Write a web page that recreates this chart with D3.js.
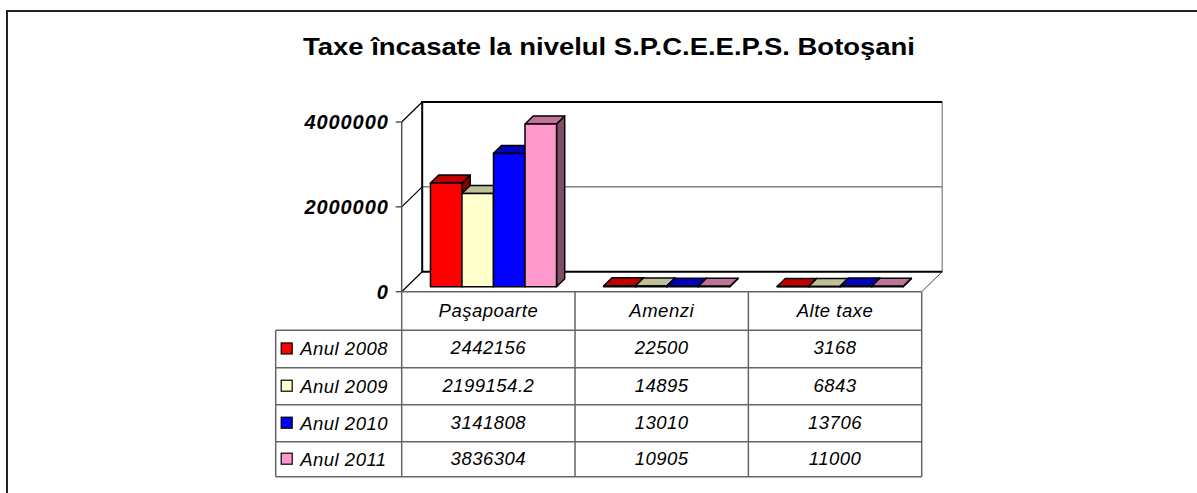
<!DOCTYPE html>
<html>
<head>
<meta charset="utf-8">
<style>
    body { margin: 0; background: white; }
    svg { display: block; font-family: 'Liberation Sans', Arial, sans-serif; }
</style>
</head>
<body>
<svg width="1197" height="493"></svg>
<script src="https://d3js.org/d3.v7.min.js"></script>
<script>
    // data
    const categories = ["Paşapoarte", "Amenzi", "Alte taxe"];
    const series = ["Anul 2008", "Anul 2009", "Anul 2010", "Anul 2011"];
    const values2008 = [2442156, 22500, 3168];
    const values2009 = [2199154.2, 14895, 6843];
    const values2010 = [3141808, 13010, 13706];
    const values2011 = [3836304, 10905, 11000];
    const seriesColors = ["#ff0000", "#ffffcc", "#0000ff", "#ff99cc"];
    const yTicks = [0, 2000000, 4000000];
    const title = "Taxe încasate la nivelul S.P.C.E.E.P.S. Botoşani";

    const allValues = [values2008, values2009, values2010, values2011];

    let svg = d3.select("svg");

    // outer chart frame (cropped by the picture on right and bottom)
    svg.append("path")
        .attr("d", "M7,500 L7,11 L1210,11")
        .attr("fill", "none")
        .attr("stroke", "#222")
        .attr("stroke-width", 2);

    svg.append("text")
        .attr("x", 609)
        .attr("y", 55)
        .attr("text-anchor", "middle")
        .attr("font-size", 24)
        .attr("font-weight", "bold")
        .attr("textLength", 612)
        .attr("lengthAdjust", "spacingAndGlyphs")
        .text(title);

    // 3d plot geometry
    let left = 401.7, right = 921.7, base = 291.7, top4 = 122;
    let DX = 20.5, DY = 20;
    let frontD = 0.25, backD = 0.65;

    let x = d3.scaleBand().domain(categories).range([left, right]);
    let xs = d3.scaleBand().domain(series).range([0, x.bandwidth()]).paddingOuter(0.75);
    let y = d3.scaleLinear().domain([0, 4000000]).range([base, top4]);

    const proj = (X, Y, d) => [X + d * DX, Y - d * DY];
    const poly = pts => "M" + pts.map(p => p.join(",")).join("L") + "Z";
    const shade = (c, k) => {
        let r = d3.rgb(c);
        return d3.rgb(r.r * k, r.g * k, r.b * k).formatHex();
    };

    let walls = svg.append("g");

    // back wall
    walls.append("path")
        .attr("d", poly([proj(left, y(4000000), 1), proj(right, y(4000000), 1), proj(right, y(0), 1), proj(left, y(0), 1)]))
        .attr("fill", "white").attr("stroke", "none");

    // gridlines on back wall
    walls.selectAll(".grid")
        .data(yTicks.filter(t => t > 0 && t < 4000000))
        .join("line")
        .attr("x1", d => proj(left, y(d), 1)[0])
        .attr("x2", d => proj(right, y(d), 1)[0])
        .attr("y1", d => proj(left, y(d), 1)[1])
        .attr("y2", d => proj(left, y(d), 1)[1])
        .attr("stroke", "#444").attr("stroke-width", 1);

    // back wall right edge (thin grey)
    walls.append("line")
        .attr("x1", proj(right, y(4000000), 1)[0]).attr("y1", proj(right, y(4000000), 1)[1])
        .attr("x2", proj(right, y(0), 1)[0]).attr("y2", proj(right, y(0), 1)[1])
        .attr("stroke", "#666").attr("stroke-width", 1);

    // floor right diagonal
    walls.append("line")
        .attr("x1", right).attr("y1", y(0))
        .attr("x2", proj(right, y(0), 1)[0]).attr("y2", proj(right, y(0), 1)[1])
        .attr("stroke", "#444").attr("stroke-width", 1);

    // back wall top, left edge and floor back edge (black)
    walls.append("path")
        .attr("d", "M" + proj(right, y(4000000), 1) + "L" + proj(left, y(4000000), 1) + "L" + proj(left, y(0), 1) + "L" + proj(right, y(0), 1))
        .attr("fill", "none").attr("stroke", "black").attr("stroke-width", 2);

    // side wall diagonals at ticks
    walls.selectAll(".diag")
        .data(yTicks)
        .join("line")
        .attr("x1", left).attr("y1", d => y(d))
        .attr("x2", d => proj(left, y(d), 1)[0]).attr("y2", d => proj(left, y(d), 1)[1])
        .attr("stroke", "black").attr("stroke-width", 1.2);

    // y axis
    let axis = svg.append("g");
    axis.append("line")
        .attr("x1", left).attr("x2", left)
        .attr("y1", y(4000000)).attr("y2", y(0))
        .attr("stroke", "#555").attr("stroke-width", 1.5);
    axis.selectAll(".tick")
        .data(yTicks)
        .join("line")
        .attr("x1", left - 6).attr("x2", left)
        .attr("y1", d => y(d)).attr("y2", d => y(d))
        .attr("stroke", "#555").attr("stroke-width", 1.5);
    axis.selectAll(".lbl")
        .data(yTicks)
        .join("text")
        .attr("x", left - 13)
        .attr("y", d => y(d) + 7)
        .attr("text-anchor", "end")
        .attr("font-size", 20)
        .attr("font-weight", "bold")
        .attr("font-style", "italic")
        .attr("letter-spacing", 0.9)
        .text(d => d);

    // bars
    let bars = [];
    categories.forEach((c, ci) => {
        series.forEach((s, si) => {
            bars.push({ cat: c, ser: s, value: allValues[si][ci], color: seriesColors[si] });
        });
    });

    let barG = svg.append("g")
        .selectAll("g")
        .data(bars)
        .join("g");

    barG.each(function (d) {
        let g = d3.select(this);
        let X0 = x(d.cat) + xs(d.ser), X1 = X0 + xs.bandwidth();
        let Yv = y(d.value), Y0 = y(0);
        g.append("path")
            .attr("d", poly([proj(X1, Yv, frontD), proj(X1, Yv, backD), proj(X1, Y0, backD), proj(X1, Y0, frontD)]))
            .attr("fill", shade(d.color, 0.5));
        g.append("path")
            .attr("d", poly([proj(X0, Yv, frontD), proj(X1, Yv, frontD), proj(X1, Yv, backD), proj(X0, Yv, backD)]))
            .attr("fill", shade(d.color, 0.75));
        g.append("path")
            .attr("d", poly([proj(X0, Yv, frontD), proj(X1, Yv, frontD), proj(X1, Y0, frontD), proj(X0, Y0, frontD)]))
            .attr("fill", d.color);
        g.selectAll("path")
            .attr("stroke", "black")
            .attr("stroke-width", 1.5)
            .attr("stroke-linejoin", "round");
    });

    // data table
    let rowH = [38.5, 37.5, 37, 37, 35];
    let rowY = [y(0)];
    rowH.forEach(h => rowY.push(rowY[rowY.length - 1] + h));
    let tableLeft = 275.7;
    let tbl = svg.append("g").attr("stroke", "#666").attr("stroke-width", 1.5);

    tbl.append("line").attr("x1", left).attr("x2", right).attr("y1", rowY[0]).attr("y2", rowY[0]);
    tbl.selectAll(".hr")
        .data(rowY.slice(1))
        .join("line")
        .attr("x1", tableLeft).attr("x2", right)
        .attr("y1", d => d).attr("y2", d => d);
    tbl.append("line").attr("x1", tableLeft).attr("x2", tableLeft).attr("y1", rowY[1]).attr("y2", rowY[5]);
    tbl.selectAll(".vr")
        .data(categories.map(c => x(c)).concat([right]))
        .join("line")
        .attr("x1", d => d).attr("x2", d => d)
        .attr("y1", rowY[0])
        .attr("y2", rowY[5]);

    let txt = svg.append("g")
        .attr("font-size", 18.5)
        .attr("font-style", "italic")
        .attr("fill", "black");

    txt.selectAll(".cat")
        .data(categories)
        .join("text")
        .attr("x", d => x(d) + x.bandwidth() / 2)
        .attr("y", (rowY[0] + rowY[1]) / 2 + 6.5)
        .attr("text-anchor", "middle")
        .attr("letter-spacing", 0.5)
        .text(d => d);

    series.forEach((s, si) => {
        let cy = (rowY[si + 1] + rowY[si + 2]) / 2;
        svg.append("rect")
            .attr("x", tableLeft + 5.5).attr("y", cy - 6)
            .attr("width", 11).attr("height", 11)
            .attr("fill", seriesColors[si])
            .attr("stroke", "black").attr("stroke-width", 1.2);
        txt.append("text")
            .attr("x", tableLeft + 24.5)
            .attr("y", cy + 6.5)
            .attr("letter-spacing", 0.5)
            .text(s);
        txt.selectAll(".v" + si)
            .data(allValues[si])
            .join("text")
            .attr("x", (d, ci) => x(categories[ci]) + x.bandwidth() / 2)
            .attr("y", cy + 5.5)
            .attr("text-anchor", "middle")
            .attr("letter-spacing", 0.5)
            .text(d => String(d));
    });
</script>
</body>
</html>
